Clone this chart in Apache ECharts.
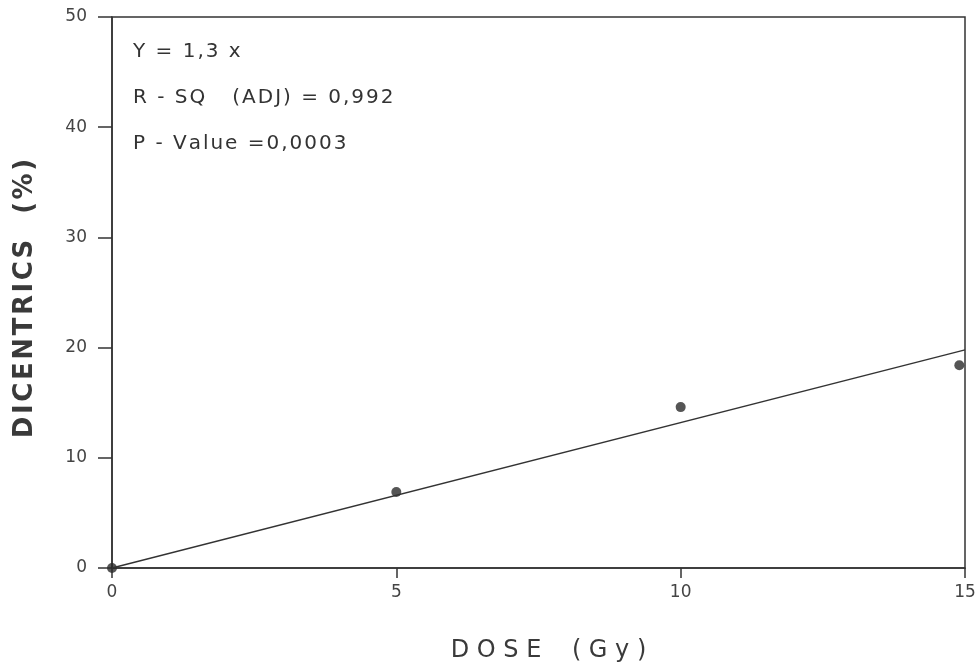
<!DOCTYPE html>
<html>
<head>
<meta charset="utf-8">
<script src="https://cdn.jsdelivr.net/npm/echarts@6/dist/echarts.min.js"></script>
<style>
  html, body { margin: 0; padding: 0; background: #fff; }
  #main { width: 979px; height: 665px; }
</style>
</head>
<body>
<div id="main"></div>
<script>
// observed doses (Gy) and dicentric frequencies (%)
const doses = [0, 5, 10, 14.9];
const dicentrics = [0, 6.9, 14.6, 18.4];
// fitted line Y = 1,3x as drawn
const fitX = [0, 15];
const fitY = [0, 19.8];
const notes = ['Y = 1,3 x', 'R - SQ   (ADJ) = 0,992', 'P - Value =0,0003'];

const ink = '#333';
// typewriter-like letter spacing with hair spaces
function spaced(s) { return s.split('').join('\u200A'); }

let chart = echarts.init(document.getElementById('main'));

chart.setOption({
    backgroundColor: '#fff',
    animation: false,
    grid: {
        left: 112, right: 14, top: 17, bottom: 97,
        containLabel: false, outerBoundsMode: 'none',
        show: true, borderColor: ink, borderWidth: 1.5, backgroundColor: 'transparent'
    },
    xAxis: {
        type: 'value', min: 0, max: 15, interval: 5,
        name: 'D O S E    ( G y )', nameLocation: 'middle', nameGap: 71,
        nameTextStyle: {
            color: '#3a3a3a', fontSize: 24, fontFamily: 'DejaVu Sans',
            padding: [0, 0, 0, 20]
        },
        axisLine: { lineStyle: { color: ink, width: 1.5 } },
        axisTick: { length: 10, lineStyle: { color: ink, width: 1.5 } },
        axisLabel: { color: '#444', fontSize: 17, margin: 16, fontFamily: 'DejaVu Sans' },
        splitLine: { show: false }
    },
    yAxis: {
        type: 'value', min: 0, max: 50, interval: 10,
        name: spaced('DICENTRICS  (%)'), nameLocation: 'middle', nameGap: 74,
        nameTextStyle: {
            color: '#3a3a3a', fontSize: 26, fontWeight: 'bold', fontFamily: 'DejaVu Sans',
            padding: [0, 12, 0, 0]
        },
        axisLine: { lineStyle: { color: ink, width: 1.5 } },
        axisTick: { length: 14, lineStyle: { color: ink, width: 1.5 } },
        axisLabel: { color: '#444', fontSize: 17, margin: 25, fontFamily: 'DejaVu Sans' },
        splitLine: { show: false }
    },
    graphic: notes.map(function (t, i) {
        return {
            type: 'text', left: 133, top: 42 + i * 46,
            style: { text: spaced(t), fill: '#333', fontSize: 20, fontFamily: 'DejaVu Sans' }
        };
    }),
    series: [
        {
            type: 'line',
            data: fitX.map(function (x, i) { return [x, fitY[i]]; }),
            symbol: 'none',
            lineStyle: { color: ink, width: 1.4 }
        },
        {
            type: 'scatter',
            data: doses.map(function (x, i) { return [x, dicentrics[i]]; }),
            symbolSize: 10,
            itemStyle: { color: '#2a2a2a' }
        }
    ]
});
</script>
</body>
</html>
